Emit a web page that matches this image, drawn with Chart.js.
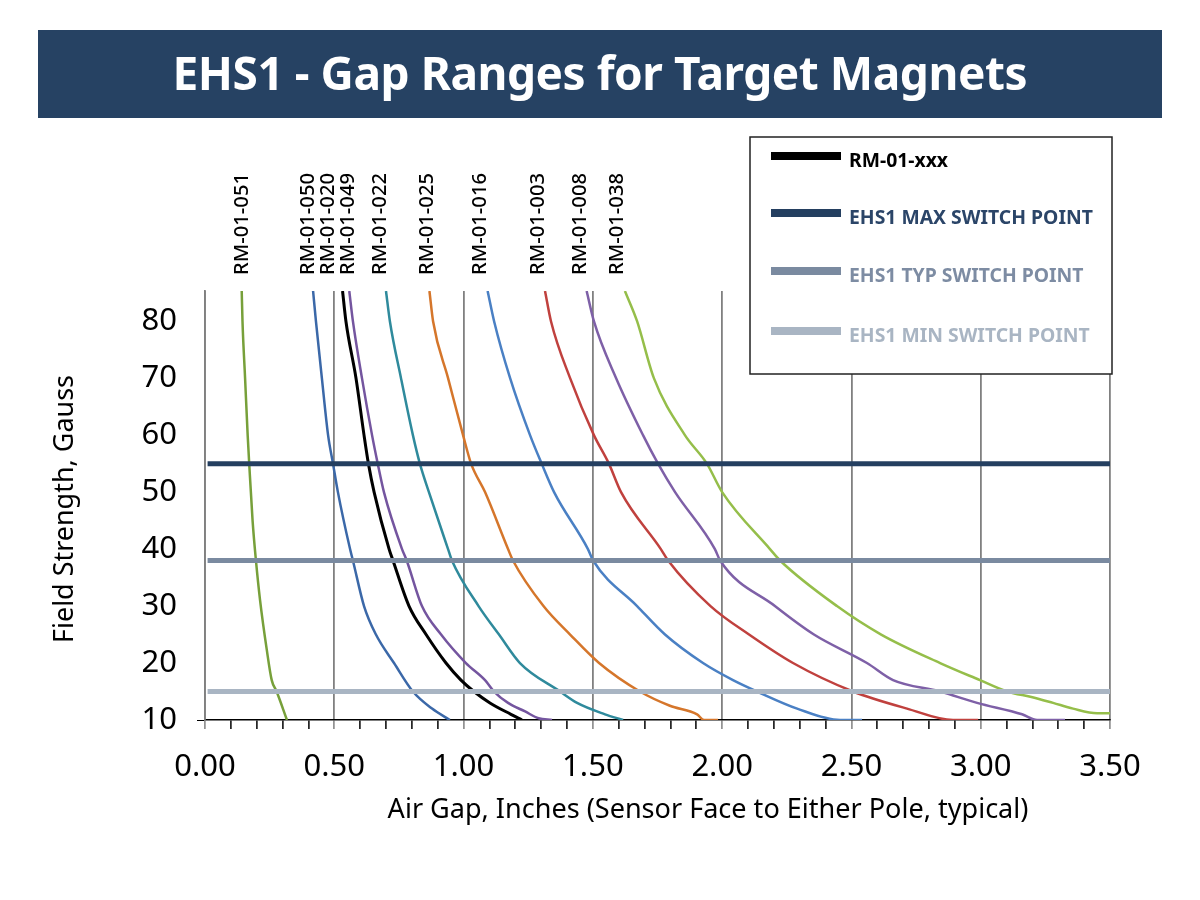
<!DOCTYPE html>
<html>
<head>
<meta charset="utf-8">
<title>EHS1 - Gap Ranges for Target Magnets</title>
<script src="https://cdn.jsdelivr.net/npm/chart.js@4.4.1/dist/chart.umd.min.js"></script>
<style>
  html, body { margin: 0; padding: 0; background: #fff; }
  #wrap { width: 1200px; height: 900px; }
</style>
</head>
<body>
<div id="wrap"><canvas id="gapChart" width="1200" height="900"></canvas></div>
<script>
const FONT = "'Noto Sans', 'Open Sans', sans-serif";
const TITLE = 'EHS1 - Gap Ranges for Target Magnets';
const X_TITLE = 'Air Gap, Inches (Sensor Face to Either Pole, typical)';
const Y_TITLE = 'Field Strength, Gauss';

// axis ticks
const yTicks = [10, 20, 30, 40, 50, 60, 70, 80];

// magnets, left to right as labelled above the plot
const magnets = ['RM-01-051', 'RM-01-050', 'RM-01-020', 'RM-01-049', 'RM-01-022',
                 'RM-01-025', 'RM-01-016', 'RM-01-003', 'RM-01-008', 'RM-01-038'];
const magnetColors = ['#77a03a', '#3b68a8', '#000000', '#74559f', '#2f8a9c',
                      '#d5762b', '#4a80c4', '#c0413e', '#7e60a7', '#95be4a'];
// air gap (in) where each name is printed
const labelGap = [0.145, 0.398, 0.476, 0.553, 0.677, 0.858, 1.063, 1.288, 1.450, 1.593];

// field curves: air gap (in) vs field (G)
const gap051   = [0.142, 0.145, 0.155, 0.165, 0.171, 0.184, 0.197, 0.213, 0.239, 0.258, 0.277, 0.317];
const field051 = [85.3, 80, 70, 60, 55, 45, 38, 31, 22.3, 17, 15, 10];
const gap050   = [0.418, 0.429, 0.452, 0.476, 0.495, 0.514, 0.561, 0.572, 0.615, 0.661, 0.731, 0.804, 0.878, 0.947];
const field050 = [85.3, 80, 70, 60, 55, 50, 40, 38, 30, 25, 20, 15, 12, 10];
const gap020   = [0.532, 0.545, 0.584, 0.615, 0.632, 0.654, 0.712, 0.727, 0.789, 0.855, 0.932, 0.990, 1.040, 1.102, 1.183, 1.226];
const field020 = [85.3, 80, 70, 60, 55, 50, 40, 38, 30, 25, 20, 17, 15, 13, 11, 10];
const gap049   = [0.558, 0.572, 0.607, 0.646, 0.668, 0.692, 0.762, 0.780, 0.839, 0.913, 1.009, 1.083, 1.118, 1.172, 1.238, 1.290, 1.342];
const field049 = [85.3, 80, 70, 60, 55, 50, 40, 38, 30, 25, 20, 17, 15, 13, 11.5, 10.3, 10];
const gap022   = [0.700, 0.715, 0.758, 0.804, 0.831, 0.866, 0.940, 0.955, 1.058, 1.137, 1.218, 1.373, 1.439, 1.547, 1.617];
const field022 = [85.3, 80, 70, 60, 55, 50, 40, 38, 30, 25, 20, 15, 13, 11, 10];
const gap025   = [0.868, 0.882, 0.940, 0.998, 1.029, 1.083, 1.172, 1.191, 1.309, 1.412, 1.524, 1.682, 1.798, 1.903, 1.930, 1.984];
const field025 = [85.3, 80, 70, 60, 55, 50, 40, 38, 30, 25, 20, 15, 12.5, 11, 10, 10];
const gap016   = [1.093, 1.118, 1.180, 1.257, 1.302, 1.350, 1.481, 1.501, 1.671, 1.779, 1.926, 2.042, 2.135, 2.290, 2.456, 2.541];
const field016 = [85.3, 80, 70, 60, 55, 50, 40, 38, 30, 25, 20, 17, 15, 12, 10, 10];
const gap003   = [1.315, 1.338, 1.412, 1.504, 1.562, 1.609, 1.763, 1.791, 1.955, 2.104, 2.274, 2.506, 2.715, 2.893, 2.990];
const field003 = [85.3, 80, 70, 60, 55, 50, 40, 38, 30, 25, 20, 15, 12, 10, 10];
const gap008   = [1.476, 1.504, 1.590, 1.694, 1.752, 1.818, 1.972, 1.992, 2.204, 2.355, 2.560, 2.661, 2.843, 2.986, 3.160, 3.218, 3.326];
const field008 = [85.3, 80, 70, 60, 55, 50, 40, 38, 30, 25, 20, 17, 15, 13, 11, 10, 10];
const gap038   = [1.624, 1.671, 1.736, 1.856, 1.941, 2.000, 2.185, 2.224, 2.444, 2.615, 2.843, 2.997, 3.102, 3.200, 3.280, 3.357, 3.450, 3.500];
const field038 = [85.3, 80, 70, 60, 55, 50, 40, 38, 30, 25, 20, 17, 15, 14, 13, 12, 11.2, 11.2];

const curveGaps   = [gap051, gap050, gap020, gap049, gap022, gap025, gap016, gap003, gap008, gap038];
const curveFields = [field051, field050, field020, field049, field022, field025, field016, field003, field008, field038];

// EHS1 switch points (G)
const switchNames  = ['EHS1 MAX SWITCH POINT', 'EHS1 TYP SWITCH POINT', 'EHS1 MIN SWITCH POINT'];
const switchGauss  = [55, 38, 15];
const switchColors = ['#243f60', '#7a8aa0', '#a9b5c3'];
const gapRange = [0.01, 3.5];

const datasets = [];
switchGauss.forEach((g, i) => {
    datasets.push({
        label: switchNames[i],
        data: gapRange.map(x => ({ x: x, y: g })),
        borderColor: switchColors[i],
        borderWidth: 5,
        pointRadius: 0,
        order: 0
    });
});
magnets.forEach((name, i) => {
    datasets.push({
        label: name,
        data: curveGaps[i].map((x, j) => ({ x: x, y: curveFields[i][j] })),
        borderColor: magnetColors[i],
        borderWidth: name === 'RM-01-020' ? 3 : 2.5,
        pointRadius: 0,
        cubicInterpolationMode: 'monotone',
        order: 1
    });
});

function isMajor(v) {
    return Math.abs(v * 2 - Math.round(v * 2)) < 1e-6;
}

function fitFont(c, text, weight, width) {
    c.font = weight + ' 100px ' + FONT;
    return 100 * width / c.measureText(text).width;
}

// banner, legend box, magnet names and axis titles
const decor = {
    id: 'decor',
    beforeDraw(chart) {
        const c = chart.ctx;
        c.save();
        c.fillStyle = '#fff';
        c.fillRect(0, 0, chart.width, chart.height);
        c.fillStyle = '#264263';
        c.fillRect(38, 30, 1124, 88);
        c.font = 'bold 46px ' + FONT;
        c.letterSpacing = '0px';
        const w = c.measureText(TITLE).width;
        const sp = (855 - w) / (TITLE.length - 1);
        c.letterSpacing = sp + 'px';
        c.fillStyle = '#fff';
        c.textAlign = 'center';
        c.textBaseline = 'alphabetic';
        c.fillText(TITLE, 600 + sp / 2, 90);
        c.restore();
    },
    afterDatasetsDraw(chart) {
        const c = chart.ctx;
        c.save();
        c.fillStyle = '#fff';
        c.fillRect(750, 137, 362, 237);
        c.strokeStyle = '#222';
        c.lineWidth = 1.5;
        c.strokeRect(750, 137, 362, 237);
        const names = ['RM-01-xxx'].concat(switchNames);
        const cols = ['#000000', '#2b4568', '#7d8ca3', '#a9b5c3'];
        const lineCols = ['#000000'].concat(switchColors);
        const base = [167, 224, 282, 342];
        const size = fitFont(c, 'EHS1 MAX SWITCH POINT', 'bold', 244);
        names.forEach((n, i) => {
            c.fillStyle = lineCols[i];
            c.fillRect(771, base[i] - 15, 70, 8);
            c.fillStyle = cols[i];
            c.font = 'bold ' + size + 'px ' + FONT;
            c.textAlign = 'left';
            c.textBaseline = 'alphabetic';
            c.fillText(n, 849, base[i]);
        });
        c.restore();
    },
    afterDraw(chart) {
        const c = chart.ctx;
        const xs = chart.scales.x;
        c.save();
        c.fillStyle = '#000';
        const ls = fitFont(c, 'RM-01-051', '500', 102);
        magnets.forEach((n, i) => {
            c.save();
            c.translate(xs.getPixelForValue(labelGap[i]), 275);
            c.rotate(-Math.PI / 2);
            c.font = '500 ' + ls + 'px ' + FONT;
            c.textAlign = 'left';
            c.textBaseline = 'middle';
            c.fillText(n, 0, 0);
            c.restore();
        });
        const xt = fitFont(c, X_TITLE, 'normal', 641);
        c.font = xt + 'px ' + FONT;
        c.textAlign = 'center';
        c.textBaseline = 'alphabetic';
        c.fillText(X_TITLE, 708, 818);
        const yt = fitFont(c, Y_TITLE, 'normal', 268);
        c.translate(73, 509);
        c.rotate(-Math.PI / 2);
        c.font = yt + 'px ' + FONT;
        c.fillText(Y_TITLE, 0, 0);
        c.restore();
    }
};

new Chart(document.getElementById('gapChart'), {
    type: 'line',
    data: { datasets: datasets },
    plugins: [decor],
    options: {
        responsive: false,
        animation: false,
        layout: { padding: { top: 291, right: 90, left: 0, bottom: 0 } },
        plugins: { legend: { display: false }, tooltip: { enabled: false } },
        scales: {
            x: {
                type: 'linear',
                min: 0,
                max: 3.5,
                afterFit(scale) { scale.height = 180; },
                border: { color: '#000', width: 1.5 },
                grid: {
                    color: ctx => isMajor(ctx.tick.value) ? '#808080' : 'rgba(0,0,0,0)',
                    lineWidth: 1.8,
                    tickLength: 9,
                    tickColor: ctx => isMajor(ctx.tick.value) ? '#808080' : '#000',
                    tickWidth: 1.5
                },
                ticks: {
                    stepSize: 0.1,
                    autoSkip: false,
                    maxRotation: 0,
                    padding: 20,
                    color: '#000',
                    font: { family: FONT, size: 31 },
                    callback: v => isMajor(v) ? v.toFixed(2) : ''
                }
            },
            y: {
                type: 'linear',
                min: 10,
                max: 85.3,
                afterFit(scale) { scale.width = 205; },
                afterBuildTicks(scale) {
                    scale.ticks = yTicks.map(v => ({ value: v }));
                },
                border: { color: '#808080', width: 1.8 },
                grid: {
                    drawOnChartArea: false,
                    tickLength: 8,
                    tickColor: ctx => ctx.tick.value === 10 ? '#000' : 'rgba(0,0,0,0)'
                },
                ticks: {
                    padding: 20,
                    color: '#000',
                    font: { family: FONT, size: 31 }
                }
            }
        }
    }
});
</script>
</body>
</html>
